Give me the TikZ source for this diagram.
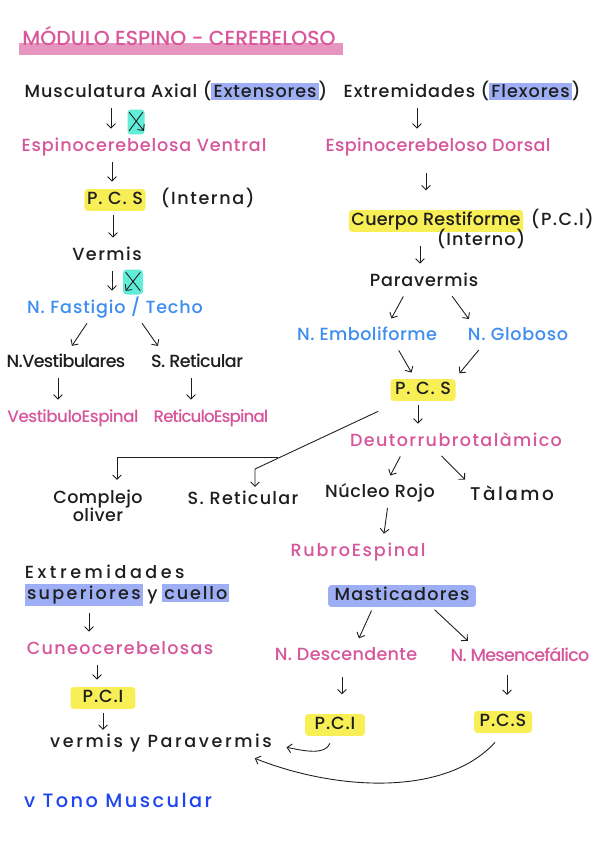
\documentclass[tikz,border=0pt]{standalone}
\usepackage{fontspec}
\setmainfont{Poppins}[UprightFont={* Medium}]
\usetikzlibrary{arrows.meta,positioning,calc}
\definecolor{titlepink}{HTML}{D9579A}
\definecolor{barpink}  {HTML}{E695BF}
\definecolor{notepink} {HTML}{D6559B}
\definecolor{noteblue} {HTML}{3D8EF0}
\definecolor{toneblue} {HTML}{1F45F0}
\definecolor{hlblue}   {HTML}{9DAEF5}
\definecolor{hlyellow} {HTML}{F8EE55}
\definecolor{hlteal}   {HTML}{62EDD8}
\definecolor{ink}      {HTML}{1E1E1E}
\newcommand{\hlb}[1]{{\setlength{\fboxsep}{1.2pt}\colorbox{hlblue}{#1}}}
\newcommand{\lsp}[1]{\addfontfeature{LetterSpace=#1}}
\tikzset{
  note/.style={font=\fontsize{10}{11}\selectfont, text=ink, inner sep=1.5pt},
  txt/.style={note, text height=7.5pt, text depth=2pt},
  sp/.style={font=\fontsize{10}{11}\selectfont\lsp{#1}},
  pinktxt/.style={txt, text=notepink},
  bluetxt/.style={txt, text=noteblue},
  ybox/.style={txt, fill=hlyellow, rounded corners=2pt, minimum height=0.3cm},
  bbox/.style={txt, fill=hlblue, rounded corners=2pt, minimum height=0.3cm},
  xbox/.style={fill=hlteal, rounded corners=2pt, minimum width=0.34cm, minimum height=0.5cm, inner sep=0pt},
  arr/.style={ink, line width=0.5pt, -{Straight Barb[length=2.5pt,width=5pt]}, shorten <=2pt, shorten >=4pt},
  link/.style={ink, line width=0.5pt}
}
\begin{document}
\begin{tikzpicture}[x=0.02cm,y=-0.02cm]
  \useasboundingbox[fill=white] (0,0) rectangle (600,848);
  % title
  \fill[barpink] (19,43) rectangle (343,55);
  \node[anchor=west, inner sep=0pt, text=titlepink, font=\fontsize{11.6}{14}\selectfont] (title) at (22,36) {MÓDULO ESPINO - CEREBELOSO};
  % top row
  \node[txt, sp=5.5] (musc) at (176,93) {Musculatura Axial (\hlb{Extensores})};
  \node[txt, sp=5.5] (extr) at (462,93) {Extremidades (\hlb{Flexores})};
  \node[xbox] (xa) at (136,122) {};
  \node[pinktxt, sp=5] (ventral) at (144,147) {Espinocerebelosa Ventral};
  \node[pinktxt, sp=2.2] (dorsal) at (438,147) {Espinocerebeloso Dorsal};
  % left column
  \node[ybox, minimum width=1.18cm, sp=5] (pcsA) at (115,200) {P. C. S};
  \node[txt, anchor=west, sp=9] (interna) at (158,200) {(Interna)};
  \node[txt, sp=8.4] (vermis) at (107,256) {Vermis};
  \node[xbox, minimum width=0.4cm] (xb) at (133,282) {};
  \node[bluetxt, sp=4.9] (fast) at (115,309) {N. Fastigio / Techo};
  \node[txt, sp=-3.8] (vest) at (66,363) {N.Vestibulares};
  \node[txt, sp=-3.3] (sret1) at (197,363) {S. Reticular};
  \node[pinktxt, font=\fontsize{9.5}{11}\selectfont\lsp{-3}] (vestesp) at (73,418) {VestibuloEspinal};
  \node[pinktxt, font=\fontsize{9.5}{11}\selectfont\lsp{-5.4}] (retesp) at (211,418) {ReticuloEspinal};
  % right column
  \node[ybox, minimum width=3.42cm, sp=1.3] (restif) at (436,221) {Cuerpo Restiforme};
  \node[txt, anchor=west, sp=8] (pci1) at (528,221) {(P.C.I)};
  \node[txt, sp=6] (interno) at (481,241) {(Interno)};
  \node[txt, sp=4.6] (para) at (424,282) {Paravermis};
  \node[bluetxt, sp=2.6] (emb) at (367,336) {N. Emboliforme};
  \node[bluetxt, sp=4] (glob) at (518,336) {N. Globoso};
  \node[ybox, minimum width=1.3cm, sp=5] (pcsB) at (423,390) {P. C. S};
  \node[pinktxt, sp=7.9] (deuto) at (456,442) {Deutorrubrotalàmico};
  \node[txt, sp=3.6] (rojo) at (380,493) {Núcleo Rojo};
  \node[txt, font=\fontsize{10.5}{12}\selectfont\lsp{13.5}] (talamo) at (512,496) {Tàlamo};
  \node[pinktxt, sp=10] (rubro) at (358,552) {RubroEspinal};
  \node[note, anchor=north, align=center, font=\fontsize{10}{10.5}\selectfont\lsp{2.5}] (comp) at (98,487) {Complejo\\oliver};
  \node[txt, sp=7.4] (sret2) at (243,500) {S. Reticular};
  % lower part
  \node[note, anchor=north west, align=left] (extsup) at (22,562) {{\lsp{20}Extremidades}\\[1pt]\hlb{\lsp{13}superiores} y \hlb{\lsp{11}cuello}};
  \node[bbox, minimum width=2.96cm, sp=7.5] (mast) at (402,596) {Masticadores};
  \node[pinktxt, sp=7.5] (cuneo) at (120,650) {Cuneocerebelosas};
  \node[pinktxt, sp=1.8] (ndesc) at (346,656) {N. Descendente};
  \node[pinktxt, sp=-4.5] (nmes) at (520,657) {N. Mesencefálico};
  \node[ybox, minimum width=1.3cm, sp=5] (pciA) at (103,698) {P.C.I};
  \node[ybox, minimum width=1.2cm, sp=5] (pciB) at (335,725) {P.C.I};
  \node[ybox, minimum width=1.16cm, sp=5] (pcsC) at (503,722) {P.C.S};
  \node[txt, sp=14.7] (vypv) at (161,743) {vermis y Paravermis};
  \node[txt, text=toneblue, font=\fontsize{11}{12}\selectfont\lsp{12.5}] (tono) at (118,803) {v Tono Muscular};
  % crossed arrows
  \draw[arr, shorten <=0pt, shorten >=0pt] ([shift={(2,3)}]xa.north west) -- ([shift={(-1,-4)}]xa.south east);
  \draw[link] ([shift={(-2,3)}]xa.north east) -- ([shift={(2,-4)}]xa.south west);
  \draw[arr, shorten <=0pt, shorten >=0pt] ([shift={(-3,3)}]xb.north east) -- ([shift={(3,-4)}]xb.south west);
  \draw[link] ([shift={(3,3)}]xb.north west) -- ([shift={(-3,-4)}]xb.south east);
  % arrows
  \draw[arr] (musc.south -| 111,0) -- (ventral.north -| 111,0);
  \draw[arr] (extr.south -| 417,0) -- (dorsal.north -| 417,0);
  \draw[arr] (ventral.south -| 112,0) -- (pcsA.north -| 112,0);
  \draw[arr, shorten <=8.5pt, shorten >=11pt] (dorsal.south -| 426,0) -- (restif.north -| 426,0);
  \draw[arr] (pcsA.south -| 113,0) -- (vermis.north -| 113,0);
  \draw[arr, shorten <=8pt] (restif.south -| 420,0) -- (para.north -| 420,0);
  \draw[arr] (vermis.south -| 112,0) -- (fast.north -| 112,0);
  \draw[arr] (para.south -| 405,0) -- (emb.north -| 388,0);
  \draw[arr] (para.south -| 450,0) -- (glob.north -| 473,0);
  \draw[arr] (fast.south -| 89,0) -- (vest.north -| 68,0);
  \draw[arr] (fast.south -| 140,0) -- (sret1.north -| 162,0);
  \draw[arr] (emb.south -| 397,0) -- (pcsB.north -| 415,0);
  \draw[arr] (glob.south -| 481,0) -- (pcsB.north -| 455,0);
  \draw[arr] (vest.south -| 58,0) -- (vestesp.north -| 58,0);
  \draw[arr] (sret1.south -| 191,0) -- (retesp.north -| 191,0);
  \draw[arr] (pcsB.south -| 418,0) -- (deuto.north -| 418,0);
  \coordinate (kink) at (255,469);
  \coordinate (fork) at (278,457);
  \coordinate (drop) at (117,457);
  \draw[arr, shorten <=0pt, shorten >=1pt] ([shift={(-12,10)}]pcsB.south west) -- (kink) -- (sret2.north -| kink);
  \draw[arr, shorten <=0pt] (fork) -- (drop) -- (comp.north -| drop);
  \draw[arr] (deuto.south -| 402,0) -- (rojo.north -| 387,0);
  \draw[arr] (deuto.south -| 439,0) -- (talamo.north -| 470,0);
  \draw[arr] (rojo.south -| 388,0) -- (rubro.north -| 383,0);
  \draw[arr] (extsup.south -| 89,0) -- (cuneo.north -| 89,0);
  \draw[arr] (mast.south -| 373,0) -- (ndesc.north -| 356,0);
  \draw[arr] (mast.south -| 432,0) -- (nmes.north -| 473,0);
  \draw[arr] (cuneo.south -| 97,0) -- (pciA.north -| 97,0);
  \draw[arr, shorten <=5.7pt, shorten >=11pt] (ndesc.south -| 342,0) -- (pciB.north -| 342,0);
  \draw[arr, shorten <=4pt, shorten >=9pt] (nmes.south -| 507,0) -- (pcsC.north -| 507,0);
  \draw[arr, shorten >=1pt] (pciA.south -| 103,0) -- (vypv.north -| 103,0);
  \draw[arr, shorten <=0pt, shorten >=1pt] ([shift={(-5,7)}]pciB.south) .. controls +(-5,12) and +(20,4) .. ([shift={(10,4)}]vypv.east);
  \draw[arr, shorten <=0pt, shorten >=0pt] ([shift={(-8,9)}]pcsC.south) .. controls +(-50,55) and +(80,32) .. ([shift={(-20,4)}]vypv.south east);
\end{tikzpicture}
\end{document}
